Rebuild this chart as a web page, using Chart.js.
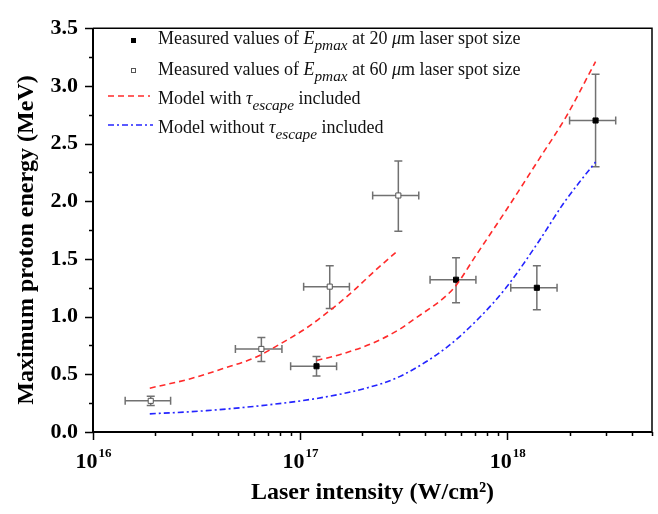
<!DOCTYPE html>
<html lang="en">
<head>
<meta charset="UTF-8" />
<title>Maximum proton energy vs laser intensity</title>
<script src="https://cdn.jsdelivr.net/npm/chart.js@4"></script>
<style>
  html, body { margin: 0; padding: 0; background: #fff; }
  canvas { display: block; }
</style>
</head>
<body>
<canvas id="myChart" width="658" height="514"></canvas>
<script>
// measured Epmax, 20 um spot (filled squares)
const int20 = [1.2e17, 5.66e17, 1.39e18, 2.67e18];
const e20 = [0.57, 1.32, 1.25, 2.70];
const int20Lo = [9.0e16, 4.24e17, 1.04e18, 2.0e18];
const int20Hi = [1.5e17, 7.06e17, 1.74e18, 3.34e18];
const e20Lo = [0.485, 1.12, 1.06, 2.30];
const e20Hi = [0.655, 1.51, 1.44, 3.10];

// measured Epmax, 60 um spot (open squares)
const int60 = [1.9e16, 6.5e16, 1.39e17, 2.98e17];
const e60 = [0.27, 0.72, 1.26, 2.05];
const int60Lo = [1.43e16, 4.87e16, 1.04e17, 2.24e17];
const int60Hi = [2.37e16, 8.17e16, 1.73e17, 3.74e17];
const e60Lo = [0.23, 0.61, 1.07, 1.74];
const e60Hi = [0.31, 0.82, 1.44, 2.35];

// model with tau_escape, 60 um branch
const withA_x = [1.88e16, 2.93e16, 4.25e16, 6.15e16, 7.96e16, 1.07e17, 1.34e17, 1.8e17, 2.24e17, 2.91e17];
const withA_y = [0.38, 0.46, 0.55, 0.65, 0.76, 0.90, 1.03, 1.22, 1.38, 1.56];
// model with tau_escape, 20 um branch
const withB_x = [1.2e17, 1.55e17, 2.24e17, 3.02e17, 3.5e17, 5.07e17, 5.66e17, 7.0e17, 9.86e17, 1.43e18, 1.92e18, 2.67e18];
const withB_y = [0.62, 0.67, 0.77, 0.89, 0.97, 1.18, 1.27, 1.52, 1.92, 2.37, 2.73, 3.21];
// model without tau_escape
const without_x = [1.88e16, 3.53e16, 7.4e16, 1.29e17, 2.08e17, 3.02e17, 5.07e17, 7.33e17, 9.86e17, 1.43e18, 1.85e18, 2.22e18, 2.67e18];
const without_y = [0.157, 0.185, 0.24, 0.30, 0.38, 0.48, 0.73, 0.99, 1.25, 1.66, 1.97, 2.16, 2.34];

const xMajor = [1e16, 1e17, 1e18];
const xExp = ['16', '17', '18'];
const yStep = 0.5;

const SERIF = '"Liberation Serif", "Times New Roman", serif';
const RED = '#ff2b2b';
const BLUE = '#2424ff';

function pts(xs, ys) {
    return xs.map((v, i) => ({ x: v, y: ys[i] }));
}

// draws text pieces side by side, italic / subscript where asked
function richText(ctx, x, y, parts, size) {
    let cx = x;
    parts.forEach(p => {
        const s = p.sub ? size * 0.85 : size;
        ctx.font = (p.it ? 'italic ' : '') + s + 'px ' + SERIF;
        ctx.fillText(p.t, cx, y + (p.sub ? size * 0.36 : 0));
        cx += ctx.measureText(p.t).width;
    });
}

const errorBars = {
    id: 'errorBars',
    beforeDatasetsDraw(chart) {
        const { ctx, scales: { x, y } } = chart;
        const sets = [
            [int20, e20, int20Lo, int20Hi, e20Lo, e20Hi],
            [int60, e60, int60Lo, int60Hi, e60Lo, e60Hi],
        ];
        ctx.save();
        ctx.strokeStyle = '#717171';
        ctx.lineWidth = 1.5;
        const cap = 4;
        sets.forEach(([xs, ys, xl, xh, yl, yh]) => {
            xs.forEach((v, i) => {
                const px = x.getPixelForValue(v), py = y.getPixelForValue(ys[i]);
                const a = x.getPixelForValue(xl[i]), b = x.getPixelForValue(xh[i]);
                const c = y.getPixelForValue(yl[i]), d = y.getPixelForValue(yh[i]);
                ctx.beginPath();
                ctx.moveTo(a, py); ctx.lineTo(b, py);
                ctx.moveTo(a, py - cap); ctx.lineTo(a, py + cap);
                ctx.moveTo(b, py - cap); ctx.lineTo(b, py + cap);
                ctx.moveTo(px, c); ctx.lineTo(px, d);
                ctx.moveTo(px - cap, c); ctx.lineTo(px + cap, c);
                ctx.moveTo(px - cap, d); ctx.lineTo(px + cap, d);
                ctx.stroke();
            });
        });
        ctx.restore();
    },
};

const frame = {
    id: 'frame',
    afterDraw(chart) {
        const { ctx, chartArea: ca, scales: { x, y } } = chart;
        ctx.save();
        ctx.strokeStyle = '#000';
        // top and right border
        ctx.lineWidth = 1.5;
        ctx.beginPath();
        ctx.moveTo(ca.left, ca.top); ctx.lineTo(ca.right, ca.top); ctx.lineTo(ca.right, ca.bottom);
        ctx.stroke();
        // main axes
        ctx.lineWidth = 2;
        ctx.beginPath();
        ctx.moveTo(ca.left, ca.top); ctx.lineTo(ca.left, ca.bottom); ctx.lineTo(ca.right, ca.bottom);
        ctx.stroke();
        // y ticks, major and minor
        ctx.lineWidth = 1.5;
        ctx.beginPath();
        for (let v = y.min; v <= y.max + 1e-9; v += yStep / 2) {
            const py = Math.round(y.getPixelForValue(v)) + 0.5;
            const major = Math.abs(v / yStep - Math.round(v / yStep)) < 1e-6;
            ctx.moveTo(ca.left, py); ctx.lineTo(ca.left - (major ? 8 : 4), py);
        }
        // x ticks on the log axis
        for (let d = 16; d <= 18; d++) {
            for (let k = 1; k <= 9; k++) {
                const v = k * Math.pow(10, d);
                if (v > x.max * 1.0001) continue;
                const px = Math.round(x.getPixelForValue(v)) + 0.5;
                ctx.moveTo(px, ca.bottom); ctx.lineTo(px, ca.bottom + (k === 1 ? 8 : 4));
            }
        }
        ctx.stroke();

        // x tick labels 10^n
        ctx.fillStyle = '#000';
        ctx.textBaseline = 'alphabetic';
        ctx.textAlign = 'left';
        xMajor.forEach((v, i) => {
            const px = x.getPixelForValue(v);
            ctx.font = 'bold 22px ' + SERIF;
            const wb = ctx.measureText('10').width;
            ctx.font = 'bold 13px ' + SERIF;
            const we = ctx.measureText(xExp[i]).width;
            const x0 = px - (wb + we) / 2;
            ctx.font = 'bold 22px ' + SERIF;
            ctx.fillText('10', x0, ca.bottom + 36);
            ctx.font = 'bold 13px ' + SERIF;
            ctx.fillText(xExp[i], x0 + wb + 1, ca.bottom + 25);
        });

        // y axis title
        ctx.save();
        ctx.translate(27, 240);
        ctx.rotate(-Math.PI / 2);
        ctx.textAlign = 'center';
        ctx.textBaseline = 'middle';
        ctx.font = 'bold 24px ' + SERIF;
        ctx.fillText('Maximum proton energy (MeV)', 0, 0);
        ctx.restore();

        // legend
        const size = 18;
        const tx = 158;
        ctx.textAlign = 'left';
        ctx.textBaseline = 'middle';
        ctx.fillStyle = '#111';
        const rows = [
            [{ t: 'Measured values of ' }, { t: 'E', it: true }, { t: 'pmax', it: true, sub: true },
             { t: ' at 20 ' }, { t: 'μ', it: true }, { t: 'm laser spot size' }],
            [{ t: 'Measured values of ' }, { t: 'E', it: true }, { t: 'pmax', it: true, sub: true },
             { t: ' at 60 ' }, { t: 'μ', it: true }, { t: 'm laser spot size' }],
            [{ t: 'Model with ' }, { t: 'τ', it: true }, { t: 'escape', it: true, sub: true }, { t: ' included' }],
            [{ t: 'Model without ' }, { t: 'τ', it: true }, { t: 'escape', it: true, sub: true }, { t: ' included' }],
        ];
        const rowY = [39, 70, 99, 128];
        rows.forEach((r, i) => richText(ctx, tx, rowY[i], r, size));

        // legend symbols
        ctx.fillStyle = '#000';
        ctx.fillRect(131, 38, 5, 5);
        ctx.fillStyle = '#fff';
        ctx.strokeStyle = '#555';
        ctx.lineWidth = 1;
        ctx.fillRect(131, 68, 5, 5);
        ctx.strokeRect(131.5, 68.5, 4, 4);
        ctx.lineWidth = 1.5;
        ctx.strokeStyle = RED;
        ctx.setLineDash([6, 4]);
        ctx.beginPath(); ctx.moveTo(108, 96); ctx.lineTo(150, 96); ctx.stroke();
        ctx.strokeStyle = BLUE;
        ctx.setLineDash([6, 3, 2, 3]);
        ctx.beginPath(); ctx.moveTo(108, 125); ctx.lineTo(153, 125); ctx.stroke();
        ctx.restore();
    },
};

const lineStyle = {
    type: 'line',
    showLine: true,
    fill: false,
    pointRadius: 0,
    borderWidth: 1.6,
    cubicInterpolationMode: 'monotone',
};

const config = {
    type: 'scatter',
    data: {
        datasets: [
            Object.assign({}, lineStyle, {
                label: 'Model with tau_escape included',
                data: pts(withA_x, withA_y),
                borderColor: RED,
                borderDash: [6, 4],
            }),
            Object.assign({}, lineStyle, {
                label: 'Model with tau_escape included (20 um)',
                data: pts(withB_x, withB_y),
                borderColor: RED,
                borderDash: [6, 4],
            }),
            Object.assign({}, lineStyle, {
                label: 'Model without tau_escape included',
                data: pts(without_x, without_y),
                borderColor: BLUE,
                borderDash: [6, 3, 2, 3],
            }),
            {
                label: 'Measured values of Epmax at 20 um laser spot size',
                data: pts(int20, e20),
                pointStyle: 'rect',
                pointRadius: 3.6,
                backgroundColor: '#000',
                borderColor: '#000',
                borderWidth: 1,
            },
            {
                label: 'Measured values of Epmax at 60 um laser spot size',
                data: pts(int60, e60),
                pointStyle: 'rect',
                pointRadius: 3.6,
                backgroundColor: '#fff',
                borderColor: '#555',
                borderWidth: 1,
            },
        ],
    },
    options: {
        responsive: false,
        animation: false,
        layout: { padding: { top: 15, right: 6, left: 0, bottom: 0 } },
        plugins: {
            legend: { display: false },
            tooltip: { enabled: false },
        },
        scales: {
            x: {
                type: 'logarithmic',
                position: 'bottom',
                min: 1e16,
                max: 5e18,
                grid: { display: false, drawTicks: false },
                border: { display: false },
                ticks: { display: false },
                title: {
                    display: true,
                    text: 'Laser intensity (W/cm²)',
                    color: '#000',
                    font: { family: SERIF, size: 24, weight: 'bold' },
                    padding: { top: 0, bottom: 7 },
                },
                afterFit(scale) { scale.height = 82; },
            },
            y: {
                type: 'linear',
                min: 0,
                max: 3.5,
                grid: { display: false, drawTicks: false },
                border: { display: false },
                ticks: {
                    stepSize: yStep,
                    color: '#000',
                    padding: 15,
                    font: { family: SERIF, size: 22, weight: 'bold' },
                    callback: v => v.toFixed(1),
                },
                afterFit(scale) { scale.width = 93; },
            },
        },
    },
    plugins: [errorBars, frame],
};

const myChart = new Chart(document.getElementById('myChart'), config);
</script>
</body>
</html>
